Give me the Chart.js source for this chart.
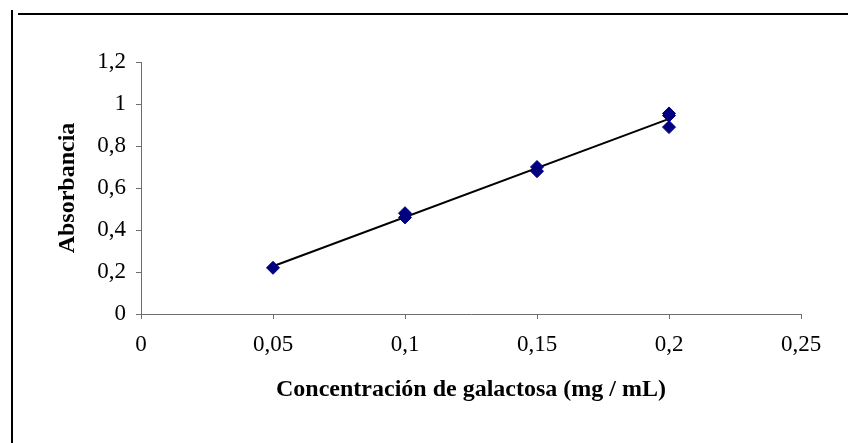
<!DOCTYPE html>
<html>
<head>
<meta charset="utf-8">
<script src="https://cdn.jsdelivr.net/npm/chart.js@4.4.1/dist/chart.umd.min.js"></script>
<style>
  html, body { margin: 0; padding: 0; background: #fff; }
  #wrap { width: 848px; height: 443px; position: relative; }
</style>
</head>
<body>
<div id="wrap"><canvas id="calib"></canvas></div>
<script>
// Galactose calibration readings (concentration in mg/mL, absorbance)
const concentracion = [0.05, 0.1, 0.1, 0.15, 0.15, 0.2, 0.2, 0.2];
const absorbancia   = [0.22, 0.48, 0.46, 0.70, 0.68, 0.955, 0.945, 0.89];

const xTicks = [0, 0.05, 0.1, 0.15, 0.2, 0.25];
const yTicks = [0, 0.2, 0.4, 0.6, 0.8, 1, 1.2];

const fontFamily = "'Liberation Serif', 'Times New Roman', serif";
const axisGray = '#6e6e6e';

// Least-squares trendline over the measured points
function linearFit(xs, ys) {
    const n = xs.length;
    const mx = xs.reduce((a, b) => a + b, 0) / n;
    const my = ys.reduce((a, b) => a + b, 0) / n;
    let sxy = 0, sxx = 0;
    for (let i = 0; i < n; i++) {
        sxy += (xs[i] - mx) * (ys[i] - my);
        sxx += (xs[i] - mx) * (xs[i] - mx);
    }
    const slope = sxy / sxx;
    return { slope, intercept: my - slope * mx };
}

const fit = linearFit(concentracion, absorbancia);
const xMin = Math.min(...concentracion);
const xMax = Math.max(...concentracion);
const trendPoints = [xMin, xMax].map(x => ({ x, y: fit.slope * x + fit.intercept }));

// decimal comma labels
const fmt = v => String(Math.round(v * 100) / 100).replace('.', ',');

// outer frame edges (left and top)
const framePlugin = {
    id: 'frame',
    beforeDraw(chart) {
        const ctx = chart.ctx;
        ctx.save();
        ctx.fillStyle = '#fff';
        ctx.fillRect(0, 0, chart.width, chart.height);
        ctx.strokeStyle = '#000';
        ctx.lineWidth = 2;
        ctx.beginPath();
        ctx.moveTo(12, 10);
        ctx.lineTo(12, chart.height);
        ctx.moveTo(18, 14);
        ctx.lineTo(chart.width, 14);
        ctx.stroke();
        ctx.restore();
    }
};

new Chart(document.getElementById('calib').getContext('2d'), {
    type: 'scatter',
    data: {
        datasets: [
            {
                label: 'Absorbancia',
                data: concentracion.map((x, i) => ({ x, y: absorbancia[i] })),
                pointStyle: 'rectRot',
                pointRadius: 6.5,
                pointBackgroundColor: '#000080',
                pointBorderColor: '#000080',
                pointBorderWidth: 1,
                order: 1
            },
            {
                label: 'Lineal',
                type: 'line',
                data: trendPoints,
                borderColor: '#000',
                borderWidth: 2,
                pointRadius: 0,
                fill: false,
                order: 2
            }
        ]
    },
    options: {
        responsive: true,
        maintainAspectRatio: false,
        animation: false,
        layout: { padding: { top: 62, right: 47, left: 0, bottom: 0 } },
        plugins: {
            legend: { display: false },
            tooltip: { enabled: false }
        },
        scales: {
            x: {
                type: 'linear',
                min: 0,
                max: 0.25,
                afterFit: s => { s.height = 129; },
                afterBuildTicks: s => { s.ticks = xTicks.map(v => ({ value: v })); },
                grid: {
                    drawOnChartArea: false,
                    drawTicks: true,
                    tickLength: 5,
                    color: axisGray
                },
                border: { display: true, color: axisGray, width: 1 },
                ticks: {
                    color: '#000',
                    padding: 12,
                    maxRotation: 0,
                    font: { family: fontFamily, size: 23 },
                    callback: v => fmt(v)
                },
                title: {
                    display: true,
                    text: 'Concentración de galactosa (mg / mL)',
                    color: '#000',
                    font: { family: fontFamily, size: 24, weight: 'bold' },
                    padding: { top: 0, bottom: 39 }
                }
            },
            y: {
                type: 'linear',
                min: 0,
                max: 1.2,
                afterFit: s => { s.width = 141; },
                afterBuildTicks: s => { s.ticks = yTicks.map(v => ({ value: v })); },
                grid: {
                    drawOnChartArea: false,
                    drawTicks: true,
                    tickLength: 5,
                    color: axisGray
                },
                border: { display: true, color: axisGray, width: 1 },
                ticks: {
                    color: '#000',
                    padding: 10,
                    font: { family: fontFamily, size: 23 },
                    callback: v => fmt(v)
                },
                title: {
                    display: true,
                    text: 'Absorbancia',
                    color: '#000',
                    font: { family: fontFamily, size: 24, weight: 'bold' },
                    padding: { top: 53, bottom: 0 }
                }
            }
        }
    },
    plugins: [framePlugin]
});
</script>
</body>
</html>
